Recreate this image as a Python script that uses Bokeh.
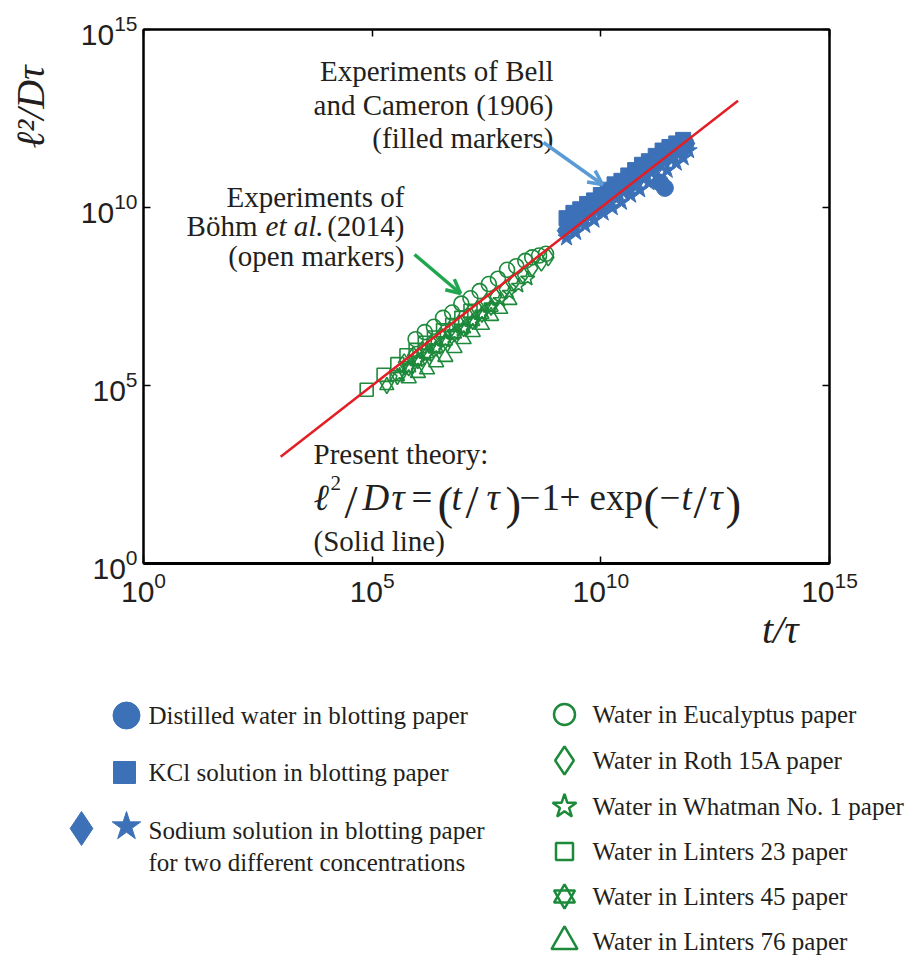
import math
from bokeh.plotting import figure
from bokeh.models import Range1d, LogAxis, FixedTicker, Label, Arrow, OpenHead, Title
from bokeh.layouts import column
from bokeh.embed import file_html
from bokeh.resources import INLINE
from bokeh.core.properties import value

# ---------------- data ----------------
axis_tick_values = [1e0, 1e5, 1e10, 1e15]

# Present theory (solid red line), read at its two ends
theory_t = [1.0e3, 1.0e13]
theory_l = [1.0e3, 1.0e13]

# Bell and Cameron (1906), filled markers (log10 t/tau, log10 l^2/D tau)
distilled_log_t = [9.9, 10.2, 10.5, 10.8, 11.0, 11.2, 11.4, 11.55, 11.7, 11.85, 11.3, 11.4]
distilled_log_l = [10.15, 10.4, 10.65, 10.9, 11.1, 11.3, 11.4, 11.55, 11.7, 11.8, 10.7, 10.55]
kcl_log_t = [9.25, 9.4, 9.55, 9.7, 9.85, 10.0, 10.15, 10.3, 10.45, 10.6, 10.75, 10.9, 11.05, 11.2, 11.35, 11.5, 11.65, 11.8]
kcl_log_l = [9.7, 9.85, 9.95, 10.1, 10.2, 10.35, 10.5, 10.65, 10.75, 10.9, 11.05, 11.2, 11.3, 11.45, 11.6, 11.7, 11.8, 11.9]
sodium_a_log_t = [9.2, 9.35, 9.5, 9.65, 9.8, 9.95, 10.1, 10.25, 10.4, 10.55, 10.7, 10.85, 11.0, 11.15, 11.3, 11.45, 11.6, 11.75, 11.9]
sodium_a_log_l = [9.35, 9.5, 9.65, 9.75, 9.9, 10.0, 10.15, 10.3, 10.45, 10.55, 10.7, 10.85, 11.0, 11.15, 11.3, 11.4, 11.55, 11.65, 11.8]
sodium_b_log_t = [9.25, 9.45, 9.65, 9.85, 10.05, 10.25, 10.45, 10.65, 10.85, 11.05, 11.25, 11.45, 11.65, 11.8, 11.92]
sodium_b_log_l = [9.15, 9.3, 9.5, 9.65, 9.85, 10.0, 10.15, 10.35, 10.5, 10.7, 10.85, 11.05, 11.25, 11.4, 11.6]

# Bohm et al. (2014), open markers
eucalyptus_log_t = [5.95, 6.15, 6.35, 6.55, 6.75, 6.95, 7.15, 7.35, 7.55, 7.75, 7.95, 8.15, 8.35, 8.5, 8.65, 8.8]
eucalyptus_log_l = [6.3, 6.5, 6.65, 6.9, 7.05, 7.3, 7.45, 7.65, 7.85, 8.0, 8.25, 8.35, 8.5, 8.6, 8.65, 8.7]
roth_log_t = [5.7, 5.9, 6.1, 6.3, 6.5, 6.7, 6.9, 7.1, 7.3, 7.5, 7.7, 7.9, 8.1, 8.3, 8.5, 8.7, 8.85]
roth_log_l = [5.65, 5.85, 6.0, 6.2, 6.4, 6.55, 6.75, 6.95, 7.15, 7.35, 7.5, 7.7, 7.9, 8.1, 8.3, 8.45, 8.6]
whatman_log_t = [5.6, 5.8, 6.0, 6.2, 6.4, 6.6, 6.8, 7.0, 7.2, 7.4, 7.6, 7.8, 8.0, 8.2, 8.4]
whatman_log_l = [5.3, 5.5, 5.7, 5.85, 6.05, 6.25, 6.45, 6.6, 6.8, 7.0, 7.2, 7.4, 7.6, 7.8, 8.0]
linters23_log_t = [4.88, 5.25, 5.55, 5.75, 5.95, 6.15, 6.35, 6.55, 6.75, 6.95, 7.15]
linters23_log_l = [4.88, 5.3, 5.6, 5.85, 6.0, 6.2, 6.35, 6.55, 6.7, 6.9, 7.1]
linters45_log_t = [5.32, 5.55, 5.8, 6.0, 6.2, 6.4, 6.6, 6.8, 7.0, 7.2, 7.4, 7.6]
linters45_log_l = [5.0, 5.25, 5.5, 5.7, 5.9, 6.05, 6.25, 6.45, 6.6, 6.8, 7.0, 7.2]
linters76_log_t = [5.8, 6.0, 6.2, 6.4, 6.6, 6.8, 7.0, 7.2, 7.4, 7.6, 7.8, 8.0]
linters76_log_l = [5.2, 5.35, 5.45, 5.65, 5.8, 6.05, 6.3, 6.5, 6.7, 6.95, 7.15, 7.4]

blue_legend_labels = ["Distilled water in blotting paper", "KCl solution in blotting paper",
                      "Sodium solution in blotting paper", "for two different concentrations"]
green_legend_labels = ["Water in Eucalyptus paper", "Water in Roth 15A paper",
                       "Water in Whatman No. 1 paper", "Water in Linters 23 paper",
                       "Water in Linters 45 paper", "Water in Linters 76 paper"]

# ---------------- styling ----------------
BLUE = "#3c71b8"
GREEN = "#1d8a3b"
RED = "#e31e24"
TXT = "#231f20"
SERIF = "Liberation Serif"
SANS = "Liberation Sans"


def p10(vals):
    return [10 ** v for v in vals]


W = 911
H1 = 653
H2 = 303
MB_L, MB_T = 143, 29
FR_PX, FB_PX = 829, 563
MB_R = W - FR_PX
MB_B = H1 - FB_PX
FL, FR, FT, FB = MB_L, FR_PX, MB_T, FB_PX


def xd(px):
    return 10 ** ((px - FL) / (FR - FL) * 15)


def yd(py):
    return 10 ** ((FB - py) / (FB - FT) * 15)


p = figure(width=W, height=H1, x_axis_type="log", y_axis_type="log",
           x_range=Range1d(1, 1e15), y_range=Range1d(1, 1e15),
           toolbar_location=None, output_backend="svg", title=None,
           min_border_left=MB_L, min_border_right=MB_R,
           min_border_top=MB_T, min_border_bottom=MB_B)
p.frame_align = False
p.grid.visible = False
p.outline_line_color = "black"
p.outline_line_width = 2
p.background_fill_color = "white"
p.border_fill_color = "white"

top_axis = LogAxis()
right_axis = LogAxis()
p.add_layout(top_axis, "above")
p.add_layout(right_axis, "right")
bottom_axis = p.below[0]
left_axis = p.left[0]
for ax in [bottom_axis, left_axis, top_axis, right_axis]:
    ax.ticker = FixedTicker(ticks=axis_tick_values)
    ax.major_tick_in = 7
    ax.major_tick_out = 0
    ax.minor_tick_line_color = None
    ax.axis_line_color = "black"
    ax.axis_line_width = 2
    ax.major_tick_line_color = "black"
    ax.major_tick_line_width = 1.5
for ax in [top_axis, right_axis]:
    ax.major_label_text_font_size = "1px"
    ax.major_label_text_color = None
    ax.major_label_standoff = 0
for ax in [bottom_axis, left_axis]:
    ax.major_label_text_font = SANS
    ax.major_label_text_font_size = "30px"
    ax.major_label_text_color = TXT
bottom_axis.axis_line_width = 3
bottom_axis.major_label_standoff = 8
left_axis.major_label_standoff = 6
# blank spacer label: pushes the y title outward
left_axis.axis_label = " "
left_axis.axis_label_text_font_size = "20px"
left_axis.axis_label_standoff = 0

# axis titles
p.add_layout(Title(text="t/τ", align="right", offset=31, standoff=0,
                   text_font=SERIF, text_font_style="italic", text_font_size="40px",
                   text_color=TXT), "below")
p.add_layout(Title(text="ℓ²/Dτ", align="right", offset=36, standoff=0,
                   text_font=SERIF, text_font_style="italic", text_font_size="40px",
                   text_color=TXT), "left")

# Bell & Cameron filled markers
p.scatter(p10(kcl_log_t), p10(kcl_log_l), marker="square", size=15, fill_color=BLUE, line_color=BLUE)
p.scatter(p10(sodium_a_log_t), p10(sodium_a_log_l), marker="diamond", size=21, fill_color=BLUE, line_color=BLUE)
p.scatter(p10(sodium_b_log_t), p10(sodium_b_log_l), marker="star", size=18, fill_color=BLUE, line_color=BLUE)
p.scatter(p10(distilled_log_t), p10(distilled_log_l), marker="circle", size=17, fill_color=BLUE, line_color=BLUE)

# Bohm et al. open markers
ow = 1.6
p.scatter(p10(linters76_log_t), p10(linters76_log_l), marker="triangle", size=15, fill_color=None, line_color=GREEN, line_width=ow)
p.scatter(p10(linters45_log_t), p10(linters45_log_l), marker="triangle", size=14, fill_color=None, line_color=GREEN, line_width=ow)
p.scatter(p10(linters45_log_t), p10(linters45_log_l), marker="inverted_triangle", size=14, fill_color=None, line_color=GREEN, line_width=ow)
p.scatter(p10(whatman_log_t), p10(whatman_log_l), marker="star", size=15, fill_color=None, line_color=GREEN, line_width=ow)
p.scatter(p10(roth_log_t), p10(roth_log_l), marker="diamond", size=17, fill_color=None, line_color=GREEN, line_width=ow)
p.scatter(p10(linters23_log_t), p10(linters23_log_l), marker="square", size=13, fill_color=None, line_color=GREEN, line_width=ow)
p.scatter(p10(eucalyptus_log_t), p10(eucalyptus_log_l), marker="circle", size=15, fill_color=None, line_color=GREEN, line_width=ow)

# theory line
p.line(theory_t, theory_l, line_color=RED, line_width=2.5)


def lab(px, py, text, size, align="left", font=SERIF, style="normal", color=TXT):
    # py is the text baseline in page pixels
    p.add_layout(Label(x=xd(px), y=yd(py), text=text, text_font=font, text_font_style=style,
                       text_font_size=f"{size}px", text_align=align, text_baseline="alphabetic",
                       text_color=color))


# annotations
AS = 29
lab(553, 70, "Experiments of Bell", AS, align="right")
lab(553, 104, "and Cameron (1906)", AS, align="right")
lab(553, 137, "(filled markers)", AS, align="right")
lab(404, 196, "Experiments of", AS, align="right")
lab(257, 225, "Böhm", AS, align="right")
lab(323, 225, "et al.", AS, align="right", style="italic")
lab(404, 225, "(2014)", AS, align="right")
lab(404, 255, "(open markers)", AS, align="right")

p.add_layout(Arrow(end=OpenHead(size=14, line_color="#5b9bd5", line_width=3.5),
                   x_start=xd(543), y_start=yd(142), x_end=xd(602), y_end=yd(184),
                   line_color="#5b9bd5", line_width=3.5))
p.add_layout(Arrow(end=OpenHead(size=14, line_color="#21a650", line_width=3.5),
                   x_start=xd(414), y_start=yd(254), x_end=xd(460), y_end=yd(293),
                   line_color="#21a650", line_width=3.5))

lab(313, 453, "Present theory:", AS)
EQ = 37
PQ = 47
EB = 497
lab(313, EB, "ℓ", EQ, style="italic")
lab(330, EB - 15, "2", 21)
lab(344, EB + 4, "/", PQ)
lab(362, EB, "D", EQ, style="italic")
lab(391, EB, "τ", EQ, style="italic")
lab(411, EB, "=", EQ)
lab(437, EB + 5, "(", PQ)
lab(451, EB, "t", EQ, style="italic")
lab(465, EB + 4, "/", PQ)
lab(486, EB, "τ", EQ, style="italic")
lab(505, EB + 5, ")", PQ)
lab(519, EB, "−", EQ)
lab(541, EB, "1", EQ)
lab(559, EB, "+", EQ)
lab(589, EB, "exp", EQ)
lab(643, EB + 5, "(", PQ)
lab(659, EB, "−", EQ)
lab(681, EB, "t", EQ, style="italic")
lab(693, EB + 4, "/", PQ)
lab(709, EB, "τ", EQ, style="italic")
lab(725, EB + 5, ")", PQ)
lab(313, 540, "(Solid line)", AS)

# ---------------- lower panel: legend ----------------
p2 = figure(width=W, height=H2, x_range=Range1d(0, W), y_range=Range1d(H1 + H2, H1),
            toolbar_location=None, output_backend="svg", title=None,
            x_axis_location=None, y_axis_location=None, min_border=0)
p2.frame_align = False
p2.grid.visible = False
p2.outline_line_color = None
p2.background_fill_color = "white"
p2.border_fill_color = "white"

LS = 25
p2.scatter([126], [715], marker="circle", size=27, fill_color=BLUE, line_color=BLUE)
p2.scatter([124], [772], marker="square", size=22, fill_color=BLUE, line_color=BLUE)
p2.scatter([81], [828], marker="diamond", size=34, fill_color=BLUE, line_color=BLUE)
p2.scatter([126], [826], marker="star", size=30, fill_color=BLUE, line_color=BLUE)
p2.text(x=[148, 148, 148, 148], y=[715, 772, 830, 862], text=blue_legend_labels,
        text_font=value(SERIF), text_font_size=f"{LS}px", text_baseline="middle", text_color=TXT)

gy = [714, 760, 806, 851, 896, 941]
gx = 564
lw = 2.5
p2.scatter([gx], [gy[0]], marker="circle", size=21, fill_color=None, line_color=GREEN, line_width=lw)
p2.scatter([gx], [gy[1]], marker="diamond", size=28, fill_color=None, line_color=GREEN, line_width=lw)
p2.scatter([gx], [gy[2]], marker="star", size=25, fill_color=None, line_color=GREEN, line_width=lw)
p2.scatter([gx], [gy[3]], marker="square", size=17, fill_color=None, line_color=GREEN, line_width=lw)
p2.scatter([gx], [gy[4]], marker="triangle", size=21, fill_color=None, line_color=GREEN, line_width=lw)
p2.scatter([gx], [gy[4]], marker="inverted_triangle", size=21, fill_color=None, line_color=GREEN, line_width=lw)
p2.scatter([gx], [gy[5]], marker="triangle", size=26, fill_color=None, line_color=GREEN, line_width=lw)
p2.text(x=[592] * 6, y=gy, text=green_legend_labels,
        text_font=value(SERIF), text_font_size=f"{LS}px", text_baseline="middle", text_color=TXT)

layout = column(p, p2, spacing=0)
with open("out.html", "w") as f:
    f.write(file_html(layout, INLINE, title="plot"))
